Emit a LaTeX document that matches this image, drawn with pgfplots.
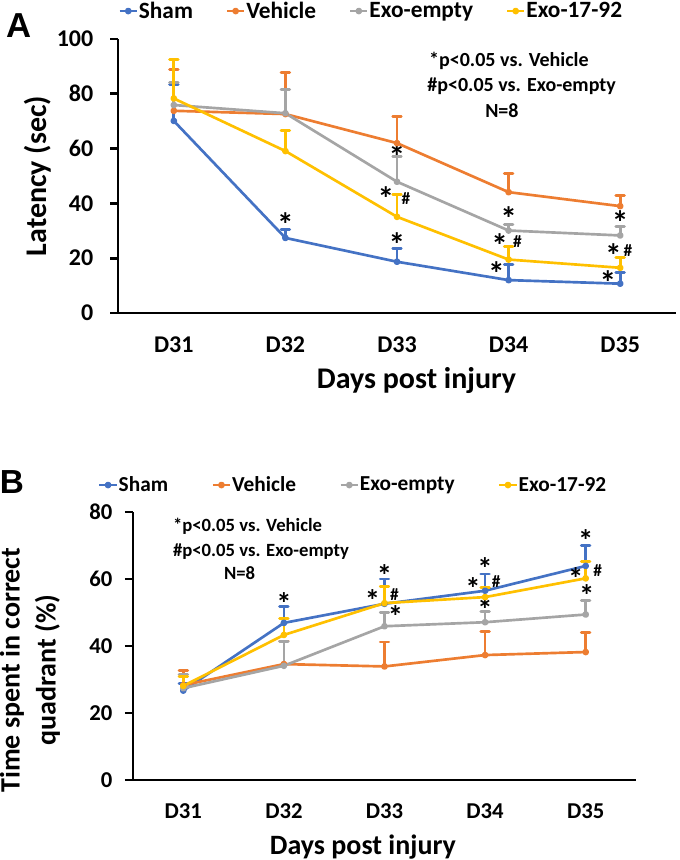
\documentclass[border=0pt]{standalone}
\usepackage{fontspec}
\setmainfont{Carlito}
\newfontfamily\arialfont{Liberation Sans}
\usepackage{pgfplots}
\usepackage{pgfplotstable}
\pgfplotsset{compat=1.18}
\definecolor{cSham}{HTML}{4472C4}
\definecolor{cVeh}{HTML}{ED7D31}
\definecolor{cEmp}{HTML}{A5A5A5}
\definecolor{cExo}{HTML}{FFC000}
\newcommand\stx{\raisebox{-0.33em}[0.33em][0pt]{*}}

% Panel A: latency (sec); e = upper error
\pgfplotstableread{
x y e
0 70.1 13.4
1 27.4 3.1
2 18.7 4.7
3 12.0 5.7
4 10.7 4.2
}\shamA
\pgfplotstableread{
x y e
0 73.8 15.0
1 72.6 15.2
2 62.0 9.6
3 44.1 6.9
4 39.0 4.0
}\vehA
\pgfplotstableread{
x y e
0 75.9 8.1
1 72.9 8.8
2 47.9 9.1
3 30.1 2.2
4 28.3 3.4
}\empA
\pgfplotstableread{
x y e
0 78.3 14.1
1 59.1 7.6
2 35.1 8.2
3 19.5 4.6
4 16.5 3.6
}\exoA
% Panel B: time in correct quadrant (%)
\pgfplotstableread{
x y e
0 26.7 2.0
1 46.9 5.0
2 52.6 7.4
3 56.5 5.0
4 63.9 6.0
}\shamB
\pgfplotstableread{
x y e
0 28.3 4.5
1 34.6 6.9
2 33.9 7.3
3 37.3 6.9
4 38.2 5.8
}\vehB
\pgfplotstableread{
x y e
0 27.4 4.0
1 34.1 7.2
2 45.9 4.0
3 47.1 3.3
4 49.4 4.2
}\empB
\pgfplotstableread{
x y e
0 28.1 2.9
1 43.3 4.8
2 52.8 5.0
3 54.6 2.9
4 60.2 5.0
}\exoB

\tikzset{
  ast/.style={font=\bfseries\fontsize{25}{25}\selectfont, inner sep=0pt},
  astb/.style={font=\bfseries\fontsize{23}{23}\selectfont, inner sep=0pt},
  hsh/.style={font=\bfseries\fontsize{13}{13}\selectfont, inner sep=0pt},
}
\pgfplotsset{
  base/.style={
    scale only axis, xmin=-0.5, xmax=4.5, ymin=0,
    axis x line*=bottom, axis y line*=left,
    axis line style={line width=2.2pt, black, -},
    xtick={0,1,2,3,4}, xticklabels={D31,D32,D33,D34,D35},
    xtick style={draw=none},
    minor xtick={-0.5,0.5,1.5,2.5,3.5,4.5},
    minor x tick style={line width=2pt, black},
    minor tick length=6pt, major tick length=6pt,
    ytick style={line width=2pt, black},
    tick align=outside,
    xticklabel shift=8pt,
    /pgf/number format/assume math mode=true,
    clip=false,
    legend columns=4,
    legend image code/.code={\draw[mark repeat=2,mark phase=2,##1] plot coordinates {(0pt,0pt) (6.5pt,0pt) (13pt,0pt)};},
  },
  ser/.style={color=#1, line width=2pt, line join=round, mark=*, mark size=1.5pt,
    mark options={solid, fill=#1},
    error bars/.cd, y dir=plus, y explicit,
    error bar style={line width=2pt, color=#1},
    error mark options={rotate=90, mark size=3.2pt, line width=2.2pt, line cap=round, color=#1}},
}

\begin{document}
\begin{tikzpicture}
\path[use as bounding box] (0,0) rectangle (510pt,645pt);

% ---------------- Panel A ----------------
\begin{axis}[base,
  at={(88.5pt,410.25pt)}, anchor=south west,
  width=418.5pt, height=205.5pt,
  ymax=100, ytick={0,20,...,100},
  yticklabel shift=9pt,
  xticklabel style={font=\bfseries\fontsize{18}{20}\selectfont},
  yticklabel style={font=\bfseries\fontsize{18}{20}\selectfont},
  xlabel={Days post injury},
  ylabel={Latency (sec)},
  xlabel style={font=\bfseries\fontsize{22.5}{26}\selectfont, at={(axis description cs:0.535,-0.248)}, anchor=center},
  ylabel style={font=\bfseries\fontsize{22.5}{26}\selectfont, at={(axis description cs:-0.143,0.5)}, anchor=center},
  legend style={at={(axis description cs:0,1.102)}, anchor=west, draw=none, fill=none,
    inner sep=0pt, font=\bfseries\fontsize{17.5}{20}\selectfont,
    nodes={inner xsep=0.5pt, inner ysep=1pt},
    /tikz/every even column/.append style={column sep=24pt}},
]
\addplot[ser=cSham] table[x=x,y=y,y error=e] {\shamA};
\addlegendentry{Sham}
\addplot[ser=cVeh] table[x=x,y=y,y error=e] {\vehA};
\addlegendentry{Vehicle}
\addplot[ser=cEmp] table[x=x,y=y,y error=e] {\empA};
\addlegendentry{Exo-empty}
\addplot[ser=cExo] table[x=x,y=y,y error=e] {\exoA};
\addlegendentry{Exo-17-92}

\node[anchor=west, font=\bfseries\fontsize{15}{18}\selectfont] at (axis cs:2.246,92) {*p<0.05 vs. Vehicle};
\node[anchor=west, font=\bfseries\fontsize{15}{18}\selectfont] at (axis cs:2.23,82.7) {\#p<0.05 vs. Exo-empty};
\node[anchor=center, font=\bfseries\fontsize{15}{18}\selectfont] at (axis cs:2.94,74) {N=8};

\node[ast] at (axis cs:1,34.1) {\stx};
\node[ast] at (axis cs:2,58.8) {\stx};
\node[ast] at (axis cs:1.9,43.4) {\stx};
\node[hsh] at (axis cs:2.08,41.8) {\#};
\node[ast] at (axis cs:2,26.5) {\stx};
\node[ast] at (axis cs:3,36.2) {\stx};
\node[ast] at (axis cs:2.92,26.2) {\stx};
\node[hsh] at (axis cs:3.08,26.0) {\#};
\node[ast] at (axis cs:2.89,16.1) {\stx};
\node[ast] at (axis cs:4,34.5) {\stx};
\node[ast] at (axis cs:3.94,22.6) {\stx};
\node[hsh] at (axis cs:4.07,22.9) {\#};
\node[ast] at (axis cs:3.89,12.8) {\stx};
\end{axis}

% ---------------- Panel B ----------------
\begin{axis}[base,
  at={(99.75pt,60pt)}, anchor=south west,
  width=377.25pt, height=201pt,
  ymax=80, ytick={0,20,...,80},
  yticklabel shift=6pt,
  xticklabel style={font=\bfseries\fontsize{17}{20}\selectfont},
  yticklabel style={font=\bfseries\fontsize{17}{20}\selectfont},
  xlabel={Days post injury},
  ylabel={Time spent in correct\\quadrant (\%)},
  xlabel style={font=\bfseries\fontsize{21}{25}\selectfont, at={(axis description cs:0.457,-0.25)}, anchor=center},
  ylabel style={font=\bfseries\fontsize{21}{27}\selectfont, align=center, at={(axis description cs:-0.205,0.41)}, anchor=center},
  legend style={at={(axis description cs:-0.07,1.1007)}, anchor=west, draw=none, fill=none,
    inner sep=0pt, font=\bfseries\fontsize{16}{19}\selectfont,
    nodes={inner xsep=0.5pt, inner ysep=1pt},
    /tikz/every even column/.append style={column sep=32pt}},
]
\addplot[ser=cSham] table[x=x,y=y,y error=e] {\shamB};
\addlegendentry{Sham}
\addplot[ser=cVeh] table[x=x,y=y,y error=e] {\vehB};
\addlegendentry{Vehicle}
\addplot[ser=cEmp] table[x=x,y=y,y error=e] {\empB};
\addlegendentry{Exo-empty}
\addplot[ser=cExo] table[x=x,y=y,y error=e] {\exoB};
\addlegendentry{Exo-17-92}

\node[anchor=west, font=\bfseries\fontsize{14}{17}\selectfont] at (axis cs:-0.148,75.6) {*p<0.05 vs. Vehicle};
\node[anchor=west, font=\bfseries\fontsize{14}{17}\selectfont] at (axis cs:-0.148,68.3) {\#p<0.05 vs. Exo-empty};
\node[anchor=center, font=\bfseries\fontsize{14}{17}\selectfont] at (axis cs:0.56,61.7) {N=8};

\node[astb] at (axis cs:1,53.8) {\stx};
\node[astb] at (axis cs:2,62.4) {\stx};
\node[astb] at (axis cs:1.88,54.8) {\stx};
\node[hsh] at (axis cs:2.1,55.4) {\#};
\node[astb] at (axis cs:2.11,50.2) {\stx};
\node[astb] at (axis cs:3,64.4) {\stx};
\node[astb] at (axis cs:2.88,58.5) {\stx};
\node[hsh] at (axis cs:3.11,59.2) {\#};
\node[astb] at (axis cs:3,52.1) {\stx};
\node[astb] at (axis cs:4,72.8) {\stx};
\node[astb] at (axis cs:3.9,61.4) {\stx};
\node[hsh] at (axis cs:4.12,62.4) {\#};
\node[astb] at (axis cs:4.01,56.2) {\stx};
\end{axis}

\node[font=\arialfont\bfseries\fontsize{26}{26}\selectfont] at (14.25pt,625.5pt) {A};
\node[font=\arialfont\bfseries\fontsize{25}{25}\selectfont] at (9pt,283.5pt) {B};
\end{tikzpicture}
\end{document}
